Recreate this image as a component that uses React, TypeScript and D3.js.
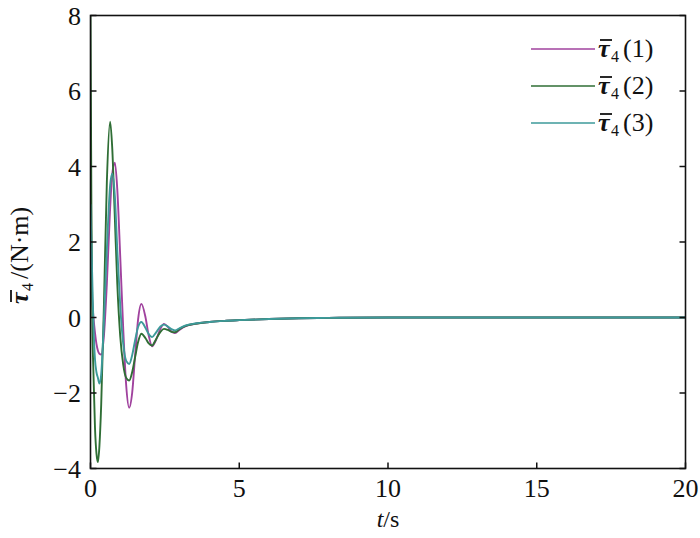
import React from "react";
import * as d3 from "d3";

const time = [0, 0.03, 0.06, 0.1, 0.15, 0.2, 0.25, 0.3, 0.36, 0.45, 0.55, 0.66, 0.73, 0.82, 0.9, 1.0, 1.1, 1.2, 1.3, 1.4, 1.5, 1.6, 1.71, 1.85, 1.95, 2.07, 2.2, 2.35, 2.47, 2.6, 2.72, 2.84, 3.0, 3.2, 3.5, 4, 4.5, 5, 6, 7, 8, 10, 12, 15, 20];

const tau1 = [1.2, 0.8, 0.4, 0.0, -0.4, -0.7, -0.88, -0.96, -0.98, -0.5, 0.9, 2.9, 3.8, 4.1, 3.4, 1.6, -0.3, -1.8, -2.39, -2.0, -1.0, -0.05, 0.36, 0.0, -0.45, -0.76, -0.6, -0.3, -0.17, -0.25, -0.37, -0.41, -0.32, -0.23, -0.17, -0.12, -0.09, -0.07, -0.04, -0.02, -0.01, 0, 0, 0, 0];
const tau2 = [8, 3, 0, -1.5, -2.9, -3.6, -3.83, -3.4, -2.3, 0.3, 3.6, 5.19, 4.5, 2.6, 0.9, -0.5, -1.25, -1.6, -1.67, -1.45, -1.05, -0.65, -0.43, -0.55, -0.68, -0.74, -0.58, -0.38, -0.3, -0.33, -0.38, -0.39, -0.3, -0.22, -0.17, -0.12, -0.09, -0.07, -0.04, -0.02, -0.01, 0, 0, 0, 0];
const tau3 = [3.0, 2.0, 1.0, -0.2, -1.1, -1.45, -1.6, -1.75, -1.5, -0.1, 1.8, 3.5, 3.81, 3.2, 1.8, 0.3, -0.7, -1.15, -1.23, -1.0, -0.6, -0.25, -0.12, -0.28, -0.43, -0.52, -0.4, -0.24, -0.19, -0.24, -0.31, -0.34, -0.28, -0.21, -0.16, -0.12, -0.09, -0.07, -0.04, -0.02, -0.01, 0, 0, 0, 0];

const seriesNames = ["(1)", "(2)", "(3)"];
const seriesColors = ["#a0429e", "#2f6e35", "#3d9a9a"];
const xTicks = [0, 5, 10, 15, 20];
const yTicks = [-4, -2, 0, 2, 4, 6, 8];

const W = 700, H = 538;
const L = 90.5, R = 685.5, T = 15.5, B = 468.5;
const FONT = "'Liberation Serif', 'Times New Roman', Times, serif";
const FS = 26;

function TauSymbol({ x, y, rest }: { x: number; y: number; rest: string }) {
  return (
    <g>
      <text x={x} y={y} fontSize={FS} fontWeight="bold" fontStyle="italic" fill="#111" fontFamily={FONT}>
        {"\u03c4"}
      </text>
      <line x1={x + 2} x2={x + 14} y1={y - 17} y2={y - 17} stroke="#111" strokeWidth={1.8} />
      <text x={x + 13} y={y + 5} fontSize={16} fill="#111" fontFamily={FONT}>
        4
      </text>
      <text x={x + 25} y={y} fontSize={FS} fill="#111" fontFamily={FONT}>
        {rest}
      </text>
    </g>
  );
}

export default function App() {
  const x = d3.scaleLinear().domain([0, 20]).range([L, R]);
  const y = d3.scaleLinear().domain([-4, 8]).range([B, T]);
  const all = [tau1, tau2, tau3];
  const line = d3
    .line<number>()
    .x((_, i) => x(time[i]))
    .y((d) => y(d))
    .curve(d3.curveMonotoneX);

  const legendY = [49, 86, 123];

  return (
    <svg
      width={W}
      height={H}
      style={{ position: "absolute", left: 0, top: 0, display: "block", background: "#fff" }}
    >
      <defs>
        <clipPath id="plot">
          <rect x={L} y={T} width={R - L} height={B - T} />
        </clipPath>
      </defs>
      <rect x={0} y={0} width={W} height={H} fill="#fff" />
      <g clipPath="url(#plot)">
        {all.map((s, k) => (
          <path key={k} d={line(s) || ""} fill="none" stroke={seriesColors[k]} strokeWidth={1.9} />
        ))}
      </g>
      <rect x={L} y={T} width={R - L} height={B - T} fill="none" stroke="#111" strokeWidth={1.6} />
      {xTicks.map((t) => (
        <g key={"x" + t}>
          <line x1={x(t)} x2={x(t)} y1={B} y2={B - 6} stroke="#111" strokeWidth={1.5} />
          <text x={x(t)} y={497} fontSize={FS} textAnchor="middle" fill="#111" fontFamily={FONT}>
            {t}
          </text>
        </g>
      ))}
      {yTicks.map((t) => (
        <g key={"y" + t}>
          <line x1={L} x2={L + 6} y1={y(t)} y2={y(t)} stroke="#111" strokeWidth={1.5} />
          <line x1={R} x2={R - 6} y1={y(t)} y2={y(t)} stroke="#111" strokeWidth={1.5} />
          <text x={81} y={y(t)} dy="0.35em" fontSize={FS} textAnchor="end" fill="#111" fontFamily={FONT}>
            {t < 0 ? "\u2212" + Math.abs(t) : t}
          </text>
        </g>
      ))}
      <text x={388} y={527} fontSize={24} textAnchor="middle" fill="#111" fontFamily={FONT}>
        <tspan fontStyle="italic">t</tspan>
        <tspan>/s</tspan>
      </text>
      <g transform={`translate(28,${(T + B) / 2}) rotate(-90)`}>
        <TauSymbol x={-62} y={0} rest={"/(N\u00b7m)"} />
      </g>
      {seriesNames.map((n, k) => (
        <g key={n}>
          <line x1={531} x2={595} y1={legendY[k]} y2={legendY[k]} stroke={seriesColors[k]} strokeWidth={1.6} />
          <TauSymbol x={598} y={legendY[k] + 8} rest={n} />
        </g>
      ))}
    </svg>
  );
}
